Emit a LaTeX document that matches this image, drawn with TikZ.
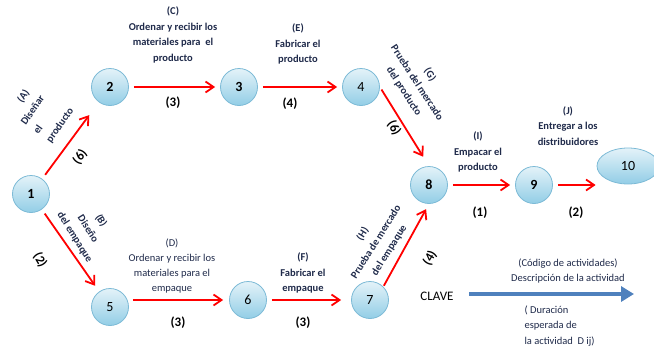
\documentclass[tikz,border=0pt]{standalone}
\usepackage{fontspec}
\setmainfont{Carlito}
\usetikzlibrary{arrows.meta,shapes.geometric}
\definecolor{evt}{HTML}{92CDE6}
\definecolor{evtedge}{HTML}{7CBAD6}
\definecolor{act}{HTML}{FF0000}
\definecolor{lbl}{HTML}{1F2A4A}
\definecolor{keyc}{HTML}{4F81BD}

\begin{document}
\begin{tikzpicture}[x=1pt, y=-1pt,
      ev/.style={circle, draw=evtedge, top color=evt!25, bottom color=evt, line
      width=0.8pt, minimum size=37pt, font=\fontsize{14}{14}\selectfont},
      evb/.style={ev, font=\bfseries\fontsize{14}{14}\selectfont},
      link/.style={-{Straight Barb[length=8pt,width=11pt]}, act, line width=1.8pt,
      shorten >=5pt, shorten <=5pt},
      desc/.style={align=center, text=lbl, font=\bfseries\fontsize{10.5}{15.5}\selectfont},
      descl/.style={desc, font=\fontsize{10.5}{15}\selectfont},
      dur/.style={font=\bfseries\fontsize{13}{13}\selectfont},
      keyt/.style={text=lbl, font=\fontsize{10.5}{15.5}\selectfont},
    ]
    \useasboundingbox (0,0) rectangle (654,349);

    % events
    \node[evb] (n1) at (31,194) {1};
    \node[evb] (n2) at (110,87) {2};
    \node[evb] (n3) at (239,87) {3};
    \node[ev] (n4) at (361,87) {4};
    \node[ev] (n5) at (110,307) {5};
    \node[ev] (n6) at (248,300) {6};
    \node[ev] (n7) at (370,300) {7};
    \node[evb] (n8) at (429,185) {8};
    \node[evb] (n9) at (534,185) {9};
    \node[ev, ellipse, minimum width=62pt, minimum height=36pt] (n10) at (628,166) {10};

    % activities
    \draw[link, shorten >=16pt] (n1) -- (n2);
    \draw[link] (n2) -- (n3);
    \draw[link] (n3) -- (n4);
    \draw[link, shorten <=3pt, shorten >=11pt] (n4.east) -- (n8.north);
    \draw[link, shorten >=7pt] (n1) -- (n5);
    \draw[link, shorten <=4pt, shorten >=6pt] (n5.east |- n6.west) -- (n6.west);
    \draw[link, shorten >=10pt] (n6.east) -- (n7.west);
    \draw[link, shorten <=1pt, shorten >=6pt] (n7.45) -- (n8.south);
    \draw[link] (n8) -- (n9);
    \draw[link, shorten >=1pt] (n9) -- (n9 -| n10.west);

    % descriptions
    \node[desc, rotate=55, align=left] (la) at (41,112) {\hspace*{16pt}(A)\\Diseñar\\el\\producto};
    \node[desc, rotate=-58] (lb) at (88,229) {(B)\\Diseño\\del empaque};
    \node[desc] (lc) at (173,35) {(C)\\Ordenar y recibir los\\materiales para~~el\\producto};
    \node[descl] (ld) at (172,266) {(D)\\Ordenar y recibir los\\materiales para el\\empaque};
    \node[desc] (le) at (298,44) {(E)\\Fabricar el\\producto};
    \node[desc] (lf) at (303,273) {(F)\\Fabricar el\\empaque};
    \node[desc, rotate=-57] (lg) at (417,83) {(G)\\Prueba del mercado\\del producto};
    \node[desc, rotate=58] (lh) at (376,242) {(H)\\Prueba de mercado\\del empaque};
    \node[desc] (li) at (478,152) {(I)\\Empacar el\\producto};
    \node[desc] (lj) at (568,126) {(J)\\Entregar a los\\distribuidores};

    % durations
    \node[dur, rotate=55] (da) at (80,157) {(6)};
    \node[dur, rotate=-60] (db) at (40,260) {(2)};
    \node[dur] (dc) at (173,103) {(3)};
    \node[dur] (dd) at (178,323) {(3)};
    \node[dur] (de) at (290,104) {(4)};
    \node[dur] (df) at (303,323) {(3)};
    \node[dur, rotate=-60] (dg) at (394,128) {(6)};
    \node[dur, rotate=60] (dh) at (430,258) {(4)};
    \node[dur] (di) at (480,213) {(1)};
    \node[dur] (dj) at (576,213) {(2)};

    % key
    \node[font=\fontsize{13}{13}\selectfont] (clave) at (437,296) {CLAVE};
    \coordinate (keyend) at (634,294);
    \draw[-{Triangle[length=13pt,width=15pt]}, keyc, line width=4pt, shorten <=12pt]
      (clave.east |- keyend) -- (keyend);
    \node[keyt, align=center] (kdesc) at (568,271) {(Código de actividades)\\Descripción de la actividad};
    \node[keyt, align=left, anchor=west] (kdur) at (521,326) {( Duración\\esperada de\\la actividad~~D ij)};
  \end{tikzpicture}
\end{document}
